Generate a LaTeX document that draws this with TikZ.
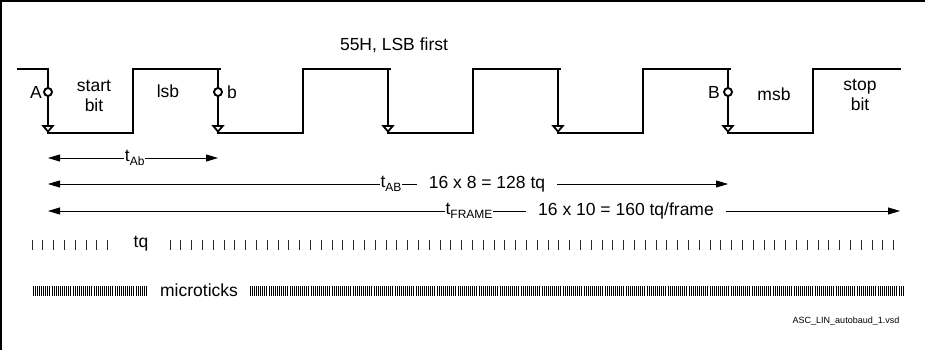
\documentclass[tikz,border=0pt]{standalone}
\usepackage{fontspec}
\setmainfont{Liberation Sans}
\usetikzlibrary{positioning,arrows.meta}
\newcommand\tsub[1]{\raisebox{-0.45ex}{\fontsize{12}{12}\selectfont #1}}

\tikzset{
  wave/.style={line width=2.9pt,line cap=rect},
  fall/.style={line width=2.9pt,-{Triangle[open,length=8pt,width=13pt,line width=1.8pt]}},
  pin/.style={circle,draw,fill=white,line width=1.9pt,inner sep=0pt,minimum size=8pt},
  dim/.style={line width=0.8pt},
  gap/.style={fill=white,inner sep=1pt},
  tick/.style={line width=1pt,black!85},
  mtick/.style={line width=0.75pt,black}
}

\begin{document}
\begin{tikzpicture}[x=1pt,y=-1pt,>={Triangle[length=12pt,width=7pt]},
  font=\fontsize{17.5}{20.5}\selectfont]
\useasboundingbox (0,0) rectangle (925,350);
\draw[line width=1.2pt] (1,350) -- (1,1) -- (925,1);

% waveform 55H
\draw[wave] (18,69) -- (48,69);
\foreach \k in {0,2,4,6,8}{
  \pgfmathsetmacro\xa{48+85*\k}
  \draw[fall] (\xa,69) -- (\xa,133);
  \draw[wave] (\xa,133) -- ++(85,0) -- ++(0,-64) -- ++(87,0);
}
\node[pin] (A) at (48,92) {};
\node[pin] (b) at (218,92) {};
\node[pin] (B) at (728,92) {};
\node[left=0pt of A,inner sep=1pt] (lA) {A};
\node[right=3pt of b,inner sep=1pt] (lb) {b};
\node[left=2pt of B,inner sep=1pt] (lB) {B};
\node[align=center] (start) at (94,96) {start\\bit};
\node (lsb) at (168,91) {lsb};
\node (msb) at (774,94) {msb};
\node[align=center] (stop) at (860,95) {stop\\bit};
\node (title) at (394,45) {55H, LSB first};

% times
\coordinate (ab1) at (48,158);
\coordinate (ab2) at (218,158);
\coordinate (AB1) at (48,184);
\coordinate (AB2) at (728,184);
\coordinate (fr1) at (48,211);
\coordinate (fr2) at (900,211);
\draw[dim,<->] (ab1) -- (ab2) node[gap,pos=0.51] (tAb) {t\tsub{Ab}};
\draw[dim,<->] (AB1) -- (AB2);
\node[gap] (tAB) at (391,184) {t\tsub{AB}};
\node[gap,inner xsep=12pt] (nAB) at (487,184) {16 x 8 = 128 tq};
\draw[dim,<->] (fr1) -- (fr2);
\node[gap] (tFR) at (469,211) {t\tsub{FRAME}};
\node[gap,inner xsep=12pt] (nFR) at (626,211) {16 x 10 = 160 tq/frame};

% tq and microticks
\foreach \i in {0,...,7} \draw[tick] ({32+10.8*\i},240) -- ++(0,10);
\node (tq) at (141,244) {tq};
\foreach \i in {0,...,67} \draw[tick] ({170+10.8*\i},240) -- ++(0,10);
\foreach \i in {0,...,54} \draw[mtick] ({33+2.1*\i},286) -- ++(0,10);
\node (micro) at (199,290) {microticks};
\foreach \i in {0,...,311} \draw[mtick] ({250+2.1*\i},286) -- ++(0,10);

\node[font=\fontsize{9}{10}\selectfont] (file) at (846,321) {ASC\_LIN\_autobaud\_1.vsd};
\end{tikzpicture}
\end{document}
